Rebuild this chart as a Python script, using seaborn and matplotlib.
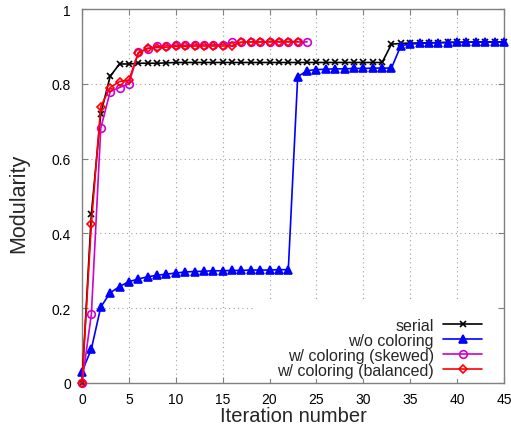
import numpy as np
import pandas as pd
import seaborn as sns
import matplotlib
matplotlib.use("Agg")
import matplotlib.pyplot as plt
from matplotlib.patches import Rectangle

# ---- data ----
serial = [0.0, 0.452, 0.72, 0.82, 0.853, 0.853, 0.855, 0.855, 0.855, 0.856] + [0.857] * 23 + \
         [0.906, 0.908, 0.909, 0.909, 0.910, 0.910, 0.911, 0.911, 0.911, 0.912, 0.912, 0.912, 0.912]
wo_coloring = [0.03, 0.091, 0.203, 0.241, 0.258, 0.271, 0.278, 0.284, 0.288, 0.291, 0.294, 0.297,
               0.298, 0.299, 0.300, 0.300, 0.301, 0.301, 0.302, 0.302, 0.302, 0.303, 0.303,
               0.819, 0.835, 0.838, 0.839, 0.840, 0.840, 0.841, 0.841, 0.842, 0.842, 0.842,
               0.902, 0.906, 0.908, 0.909, 0.910, 0.910, 0.911, 0.911, 0.912, 0.912, 0.912, 0.912]
skewed = [0.0, 0.184, 0.681, 0.779, 0.790, 0.800, 0.884, 0.894, 0.900, 0.902, 0.903, 0.903, 0.904,
          0.904, 0.904, 0.905, 0.911, 0.911, 0.912, 0.912, 0.912, 0.912, 0.912, 0.912, 0.912]
balanced = [0.0, 0.425, 0.739, 0.790, 0.806, 0.810, 0.882, 0.895, 0.897, 0.898, 0.900, 0.900,
            0.901, 0.901, 0.901, 0.901, 0.902, 0.911, 0.912, 0.912, 0.913, 0.913, 0.913, 0.913]

series_names = ["serial", "w/o coloring", "w/ coloring (skewed)", "w/ coloring (balanced)"]
series_values = [serial, wo_coloring, skewed, balanced]
x_ticks = [0, 5, 10, 15, 20, 25, 30, 35, 40, 45]
y_ticks = [0, 0.2, 0.4, 0.6, 0.8, 1.0]
y_tick_labels = ["0", "0.2", "0.4", "0.6", "0.8", "1"]

rows = []
for name, vals in zip(series_names, series_values):
    for i, v in enumerate(vals):
        rows.append({"Iteration": i, "Modularity": v, "series": name})
df = pd.DataFrame(rows)

# ---- styling ----
sns.set_theme(style="white")
plt.rcParams["font.family"] = ["Liberation Sans", "DejaVu Sans"]

colors = ["#000000", "#0000ff", "#d000d0", "#ff0000"]
markers = ["x", "^", "o", "D"]
msizes = [4.0, 5.5, 5.5, 4.5]
mfcs = ["#000000", "#0000ff", "none", "none"]

fig = plt.figure(figsize=(5.11, 4.27), dpi=100)
ax = fig.add_axes([82 / 511, 1 - 384 / 427, 422 / 511, 374 / 427])

for name, c, m, ms, mfc in zip(series_names, colors, markers, msizes, mfcs):
    sub = df[df["series"] == name]
    sns.lineplot(data=sub, x="Iteration", y="Modularity", ax=ax, color=c, marker=m,
                 markersize=ms, markerfacecolor=mfc, markeredgecolor=c, markeredgewidth=1.2,
                 linewidth=1.2, label=name, clip_on=False, zorder=3)

ax.set_xlim(0, 45)
ax.set_ylim(0, 1)
ax.set_xticks(x_ticks)
ax.set_yticks(y_ticks)
ax.set_yticklabels(y_tick_labels)
ax.set_axisbelow(True)
ax.grid(True, linestyle=(0, (1, 3)), color="#a0a0a0", linewidth=0.8)

for sp in ax.spines.values():
    sp.set_color("#808080")
    sp.set_linewidth(1.0)
    sp.set_visible(True)
ax.tick_params(direction="in", length=4, width=0.8, color="#808080",
               top=True, right=True, bottom=True, left=True,
               labelsize=10, pad=8, labelcolor="black")
ax.tick_params(axis="x", pad=6.5)

# white key box area (hides grid behind legend as in the reference)
ax.add_patch(Rectangle((0.41, 0.012), 0.575, 0.207, transform=ax.transAxes,
                       facecolor="white", edgecolor="none", zorder=1))

ax.set_xlabel("Iteration number", fontsize=14.5, va="top")
ax.xaxis.set_label_coords(0.5, -0.0615)
ax.set_ylabel("Modularity", fontsize=15.5)
ax.yaxis.set_label_coords(-0.126, 0.483)

leg = ax.legend(loc="lower right", bbox_to_anchor=(0.955, 0.005), frameon=False,
                markerfirst=False, fontsize=11.5, labelspacing=0.0, handlelength=2.4,
                handletextpad=0.6, borderpad=0.2, borderaxespad=0.0, numpoints=1)

fig.savefig("out.png", dpi=100)
